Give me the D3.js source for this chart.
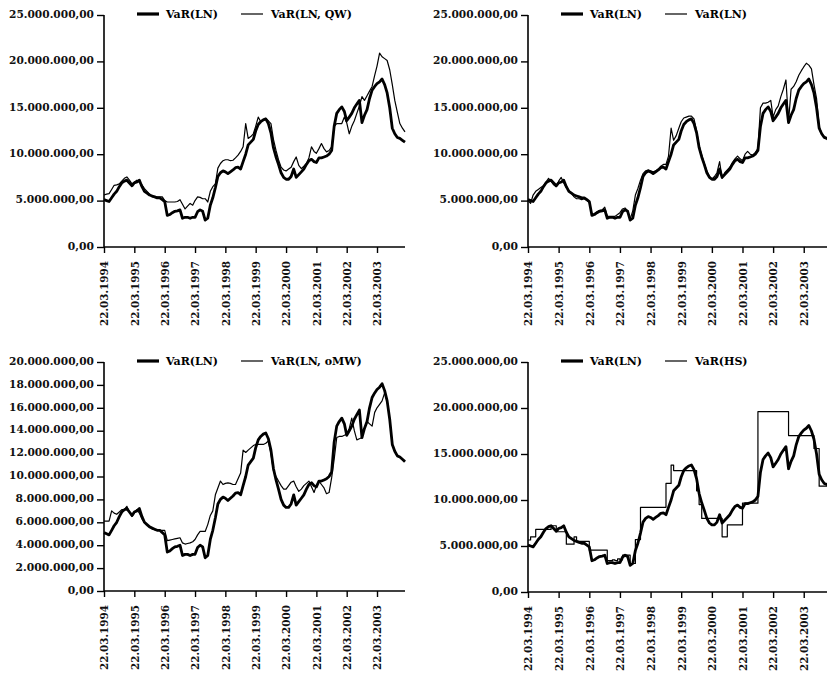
<!DOCTYPE html>
<html><head><meta charset="utf-8">
<script src="https://cdn.jsdelivr.net/npm/d3@7/dist/d3.min.js"></script>
<style>body{margin:0;background:#fff}svg{display:block}</style>
</head><body>
<svg id="chart" width="827" height="676"></svg>
<script>
// ---- data (values in EUR millions, monthly from 22.03.1994) ----
const startDate = "1994-03-22";
const LN = [5.1,5.0,4.9,5.3,5.7,6.0,6.5,6.9,7.1,7.2,
  6.9,6.6,6.9,7.0,7.2,6.5,6.0,5.8,5.6,5.5,
  5.4,5.3,5.3,5.1,4.9,3.4,3.5,3.7,3.85,3.9,
  4.0,3.1,3.2,3.2,3.1,3.2,3.2,3.8,4.0,3.85,
  2.9,3.1,4.5,5.3,6.4,7.6,8.0,8.2,8.1,7.9,
  8.1,8.3,8.55,8.6,8.4,9.2,10.0,11.0,11.3,11.6,
  12.5,13.2,13.5,13.7,13.8,13.3,12.3,10.7,9.7,8.9,
  8.0,7.5,7.3,7.3,7.6,8.4,7.5,7.8,8.1,8.4,
  8.9,9.3,9.45,9.2,9.1,9.6,9.6,9.7,9.8,10.0,
  10.4,13.0,14.4,14.8,15.1,14.6,13.6,14.0,14.4,15.0,
  15.4,15.8,13.4,14.2,14.8,16.0,16.9,17.3,17.6,17.8,
  18.1,17.5,16.6,15.0,12.8,12.2,11.8,11.7,11.5,11.3];
const QW = [5.6,5.7,5.75,6.2,6.65,6.7,6.8,7.1,7.4,7.55,
  7.2,6.8,7.0,7.2,7.0,6.7,6.3,6.0,5.7,5.4,
  5.4,5.4,5.4,5.4,5.0,4.85,4.85,4.85,4.85,4.9,
  5.1,4.6,4.1,4.4,4.7,4.5,5.0,5.4,5.35,5.2,
  5.2,4.85,6.0,6.5,6.8,8.5,9.0,9.3,9.4,9.4,
  9.3,9.35,9.6,9.9,10.3,10.8,13.3,11.7,11.9,12.2,
  13.0,14.0,13.5,13.7,13.85,13.6,13.3,11.6,10.4,9.4,
  8.6,8.3,8.2,8.4,8.6,9.2,9.7,8.8,8.45,8.7,
  9.0,9.6,10.8,10.3,10.1,10.6,11.15,10.6,10.25,10.4,
  10.8,13.0,13.3,13.3,13.3,14.0,13.4,12.2,13.0,13.6,
  14.4,15.2,16.2,15.8,16.3,16.8,17.3,18.5,19.5,20.9,
  20.5,20.3,20.1,19.1,17.5,15.8,14.5,13.3,12.8,12.4];
const LN2 = [5.0,4.7,5.6,6.0,6.2,6.4,6.6,7.0,7.4,7.1,
  6.7,6.5,7.1,7.5,6.9,6.4,6.1,5.8,5.4,5.2,
  5.2,5.1,5.2,5.0,4.8,3.5,3.6,3.8,3.95,4.0,
  4.3,3.3,3.3,3.3,3.3,3.5,3.7,4.1,4.2,3.9,
  3.0,3.9,5.6,6.3,7.2,7.9,8.2,8.3,8.2,8.1,
  8.2,8.4,8.7,8.9,8.9,9.8,12.8,11.5,12.0,12.8,
  13.5,13.9,14.0,14.1,14.1,13.8,12.5,10.9,9.9,9.0,
  8.2,7.6,7.3,7.6,8.0,9.2,7.4,8.0,8.3,8.6,
  9.1,9.5,9.8,9.5,9.3,10.0,10.3,10.0,9.9,10.2,
  10.6,15.0,15.5,15.5,15.6,15.8,14.0,14.8,15.2,16.2,
  17.0,18.0,13.5,17.0,17.3,17.8,18.5,19.0,19.4,19.8,
  19.6,19.2,17.5,16.0,13.0,12.2,11.9,11.8,11.6,11.4];
const oMW = [6.1,6.1,6.1,7.0,6.8,6.7,6.9,7.1,7.1,7.4,
  6.9,6.5,6.8,7.1,6.8,6.3,6.0,5.8,5.6,5.4,
  5.35,5.3,5.3,5.3,5.3,4.4,4.45,4.5,4.55,4.6,
  4.65,4.2,4.1,4.15,4.2,4.3,4.5,4.9,5.2,5.2,
  5.2,5.8,6.6,7.0,8.4,9.0,9.6,9.3,9.4,9.45,
  9.4,9.3,9.3,9.8,10.3,12.3,12.1,12.3,12.5,12.7,
  12.8,12.8,12.8,12.8,12.9,13.1,12.0,10.5,10.0,9.6,
  9.2,8.9,8.9,9.2,9.5,9.6,9.1,8.7,8.9,9.2,
  9.4,9.6,9.1,8.6,9.2,9.6,9.3,9.0,8.5,8.6,
  9.9,11.5,13.4,13.5,13.5,13.6,13.7,14.2,15.1,14.0,
  13.2,13.3,13.4,14.2,14.8,14.6,14.4,15.6,16.0,16.3,
  16.6,17.3,16.6,15.0,12.8,12.2,11.8,11.7,11.5,11.3];
const HS = [5.65,6.0,6.0,6.8,6.8,6.8,6.8,6.8,6.8,7.2,
  7.2,6.55,6.55,6.55,6.55,5.2,5.2,5.2,6.0,5.5,
  5.5,5.5,5.5,5.5,4.55,4.55,4.55,4.55,4.55,4.55,
  4.55,3.4,3.4,3.5,3.4,3.6,3.5,4.0,4.0,4.0,
  3.1,3.1,5.7,5.7,9.2,9.2,9.2,9.2,9.2,9.2,
  9.2,9.2,9.2,9.2,11.8,11.8,13.8,13.2,13.2,13.2,
  13.2,13.2,13.2,13.2,13.2,13.2,11.0,9.5,8.0,8.0,
  8.0,8.0,8.0,8.0,8.0,8.0,6.0,6.0,7.3,7.3,
  7.3,7.3,7.3,7.3,9.65,9.65,9.65,9.65,9.65,9.65,
  19.6,19.6,19.6,19.6,19.6,19.6,19.6,19.6,19.6,19.6,
  19.6,19.6,17.0,17.0,17.0,17.0,17.0,17.0,17.0,17.0,
  17.0,17.0,15.6,15.6,11.5,11.5,11.5,11.5,11.5,11.5];
const tickDates = ["1994-03-22","1995-03-22","1996-03-22","1997-03-22","1998-03-22",
  "1999-03-22","2000-03-22","2001-03-22","2002-03-22","2003-03-22"];
const yTicks25 = [0, 5e6, 10e6, 15e6, 20e6, 25e6];
const yTicks20 = [0, 2e6, 4e6, 6e6, 8e6, 10e6, 12e6, 14e6, 16e6, 18e6, 20e6];
const legendMain = "VaR(LN)";
const legendThin = ["VaR(LN, QW)", "VaR(LN)", "VaR(LN, oMW)", "VaR(HS)"];

// ---- drawing ----
const parse = d3.timeParse("%Y-%m-%d");
const t0 = parse(startDate);
const dates = LN.map((_, i) => d3.timeMonth.offset(t0, i));
const de = d3.formatLocale({decimal: ",", thousands: ".", grouping: [3], currency: ["", ""]});
const fmtY = de.format(",.2f");
const fmtX = d3.timeFormat("%d.%m.%Y");
const svg = d3.select("#chart");
const FONT = "'DejaVu Serif', serif";

const panels = [
  {x0: 104, x1: 405, yTop: 15, yBot: 247, ticks: yTicks25, thin: QW, label: legendThin[0], step: false},
  {x0: 528, x1: 832, yTop: 15, yBot: 247, ticks: yTicks25, thin: LN2, label: legendThin[1], step: false},
  {x0: 104, x1: 405, yTop: 362, yBot: 591, ticks: yTicks20, thin: oMW, label: legendThin[2], step: false},
  {x0: 528, x1: 832, yTop: 362, yBot: 592, ticks: yTicks25, thin: HS, label: legendThin[3], step: true}
];

panels.forEach(p => {
  const g = svg.append("g");
  const x = d3.scaleTime().domain([dates[0], dates[dates.length - 1]]).range([p.x0, p.x1]);
  const y = d3.scaleLinear().domain([0, d3.max(p.ticks)]).range([p.yBot, p.yTop]);

  // y axis
  const ya = g.append("g").attr("transform", `translate(${p.x0},0)`)
    .call(d3.axisLeft(y).tickValues(p.ticks).tickFormat(fmtY).tickSize(7).tickPadding(3));
  ya.select(".domain").remove();
  ya.selectAll("line").attr("stroke", "#000").attr("stroke-width", 1.4);
  ya.selectAll("text").attr("font-family", FONT).attr("font-weight", "bold")
    .attr("font-size", 11.3).attr("fill", "#111").attr("dy", "0.2em")
    .attr("lengthAdjust", "spacingAndGlyphs")
    .each(function () {
      const n = this.textContent.length;
      d3.select(this).attr("textLength", n * 85 / 13);
    });
  g.append("line").attr("x1", p.x0).attr("x2", p.x0).attr("y1", p.yTop).attr("y2", p.yBot)
    .attr("stroke", "#000").attr("stroke-width", 1.6);

  // x axis
  const xa = g.append("g").attr("transform", `translate(0,${p.yBot})`)
    .call(d3.axisBottom(x).tickValues(tickDates.map(parse)).tickFormat(fmtX).tickSize(6));
  xa.select(".domain").remove();
  xa.selectAll("line").attr("stroke", "#000").attr("stroke-width", 1.4);
  xa.selectAll("text").attr("font-family", FONT).attr("font-weight", "bold")
    .attr("font-size", 10.6).attr("fill", "#111")
    .attr("text-anchor", "end").attr("transform", "translate(0,14) rotate(-90)")
    .attr("x", 0).attr("y", 0).attr("dy", "0.36em")
    .attr("textLength", 65).attr("lengthAdjust", "spacingAndGlyphs");
  g.append("line").attr("x1", p.x0).attr("x2", p.x1).attr("y1", p.yBot).attr("y2", p.yBot)
    .attr("stroke", "#000").attr("stroke-width", 1.6);

  // series
  const line = d3.line().x((d, i) => x(dates[i])).y(d => y(d * 1e6));
  const thinLine = d3.line().x((d, i) => x(dates[i])).y(d => y(d * 1e6))
    .curve(p.step ? d3.curveStepAfter : d3.curveLinear);
  g.append("path").datum(LN).attr("d", line).attr("fill", "none")
    .attr("stroke", "#000").attr("stroke-width", 2.8).attr("stroke-linejoin", "round");
  g.append("path").datum(p.thin).attr("d", thinLine).attr("fill", "none")
    .attr("stroke", "#000").attr("stroke-width", 1.2).attr("stroke-linejoin", "round");

  // legend
  const ly = p.yTop - 1;
  g.append("line").attr("x1", p.x0 + 33).attr("x2", p.x0 + 55).attr("y1", ly).attr("y2", ly)
    .attr("stroke", "#000").attr("stroke-width", 3.2);
  g.append("text").attr("x", p.x0 + 62).attr("y", ly).attr("dy", "0.35em")
    .attr("font-family", FONT).attr("font-weight", "bold").attr("font-size", 11).text(legendMain);
  g.append("line").attr("x1", p.x0 + 137).attr("x2", p.x0 + 159).attr("y1", ly).attr("y2", ly)
    .attr("stroke", "#000").attr("stroke-width", 1.2);
  g.append("text").attr("x", p.x0 + 167).attr("y", ly).attr("dy", "0.35em")
    .attr("font-family", FONT).attr("font-weight", "bold").attr("font-size", 11).text(p.label);
});
</script>
</body></html>
